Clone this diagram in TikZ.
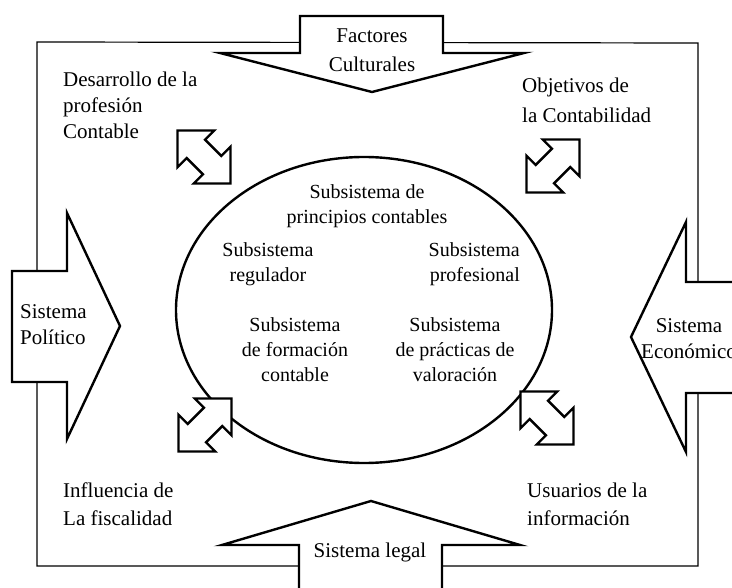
\documentclass[tikz,border=0pt]{standalone}
\usepackage{fontspec}
\setmainfont{Liberation Serif}
\begin{document}
\begin{tikzpicture}[x=1pt,y=-1pt,
  frame/.style={line width=1.2pt},
  arr/.style={line width=2.4pt,fill=white,line join=miter},
  lbl/.style={inner sep=0pt,font=\fontsize{21}{26}\selectfont},
  dblarrow/.pic={\draw[arr] (-26.52,-26.52) -- (10.25,-26.52) -- (1.06,-17.32) -- (17.32,-1.06) -- (26.52,-10.25) -- (26.52,26.52) -- (-10.25,26.52) -- (-1.06,17.32) -- (-17.32,1.06) -- (-26.52,10.25) -- cycle;}]
\clip (0,0) rectangle (732,588);
\useasboundingbox (0,0) rectangle (732,588);
% outer frame
\draw[frame] (37,566) -- (37,42) -- (698,43) -- (698,566) -- cycle;
% big arrows
\draw[arr] (300,16) -- (443,16) -- (443,53) -- (524,53) -- (372,92) -- (220,53) -- (300,53) -- cycle;
\draw[arr] (299,600) -- (299,545) -- (222,545) -- (371,501) -- (520,545) -- (442,545) -- (442,600);
\draw[arr] (12,271) -- (67,271) -- (67,213) -- (120,326) -- (67,439) -- (67,382) -- (12,382) -- cycle;
\draw[arr] (745,282) -- (686,282) -- (686,222) -- (631,337) -- (686,452) -- (686,393) -- (745,393);
% ellipse
\draw[line width=2.4pt] (364,310) ellipse [x radius=188, y radius=153];
% double arrows
\pic at (204,157) {dblarrow};
\pic at (547,418) {dblarrow};
\pic[xscale=-1] at (553,166) {dblarrow};
\pic[xscale=-1] at (205,425) {dblarrow};
% labels
\node[lbl,align=center,font=\fontsize{21}{29}\selectfont] (fc) at (372,50) {Factores\\Culturales};
\node[lbl,align=center] (sl) at (370,552) {Sistema legal};
\node[lbl,align=left,anchor=west] (sp) at (20,325) {Sistema\\Político};
\node[lbl,align=center] (se) at (689,339) {Sistema\\Económico};
\node[lbl,align=left,anchor=west] (dp) at (63,105) {Desarrollo de la\\profesión\\Contable};
\node[lbl,align=left,anchor=west,font=\fontsize{21}{30}\selectfont] (oc) at (522,100) {Objetivos de\\la Contabilidad};
\node[lbl,align=left,anchor=west,font=\fontsize{21}{28}\selectfont] (if) at (63,504) {Influencia de\\La fiscalidad};
\node[lbl,align=left,anchor=west,font=\fontsize{21}{28}\selectfont] (ui) at (527,504) {Usuarios de la\\información};
% inside ellipse
\node[lbl,align=center,font=\fontsize{20}{25}\selectfont] (pc) at (367,206) {Subsistema de\\principios contables};
\node[lbl,align=center,font=\fontsize{20}{25}\selectfont] (rg) at (268,264) {Subsistema\\regulador};
\node[lbl,align=right,anchor=east,font=\fontsize{20}{25}\selectfont] (pf) at (520,264) {Subsistema\\profesional};
\node[lbl,align=center,font=\fontsize{20}{25}\selectfont] (fm) at (295,350) {Subsistema\\de formación\\contable};
\node[lbl,align=center,font=\fontsize{20}{25}\selectfont] (pv) at (455,350) {Subsistema\\de prácticas de\\valoración};
\end{tikzpicture}
\end{document}
